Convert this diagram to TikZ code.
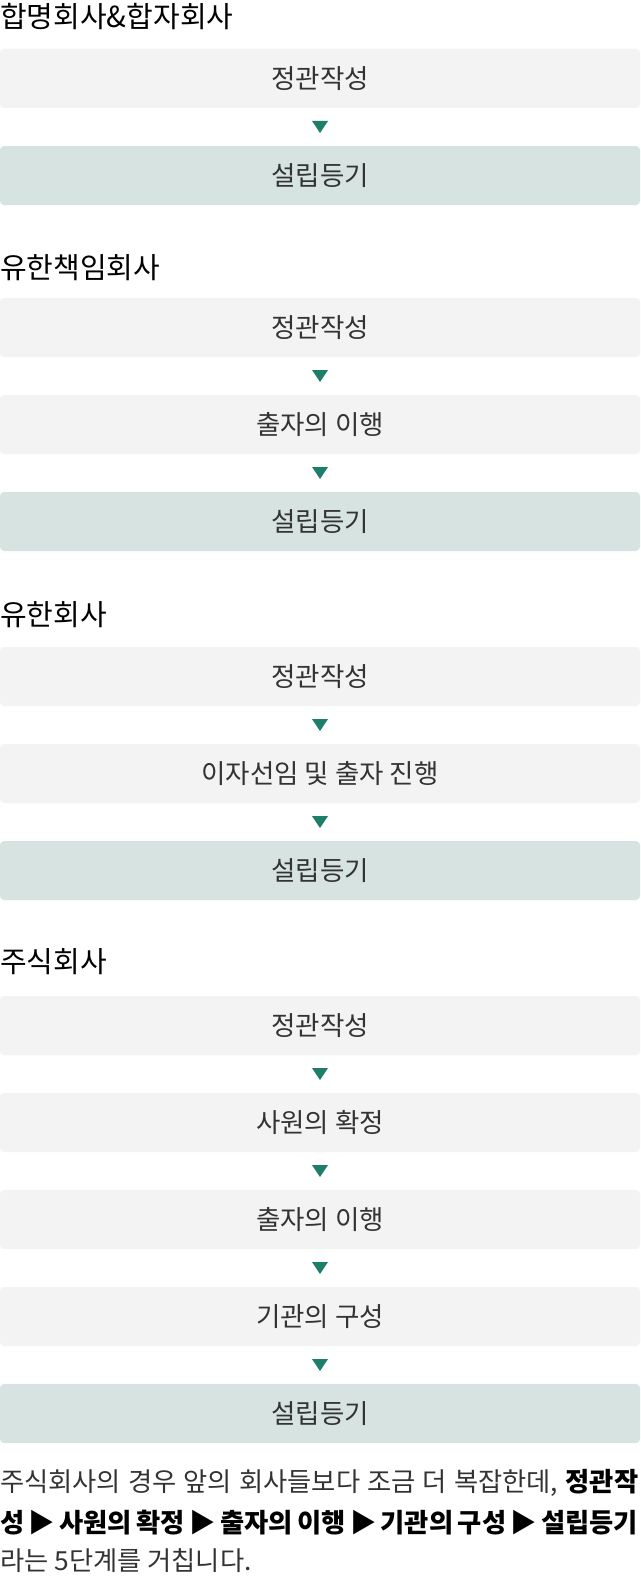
\documentclass[tikz,border=0pt]{standalone}
\usepackage{fontspec}
\setmainfont{Noto Sans CJK KR}
\usepackage{xcolor}
\usetikzlibrary{calc}

\definecolor{boxgray}{HTML}{F3F3F3}
\definecolor{boxgreen}{HTML}{D6E3E0}
\definecolor{arrowteal}{HTML}{1E7E69}
\definecolor{textgray}{HTML}{333333}

\begin{document}
\begin{tikzpicture}[
    x=1pt, y=1pt,
    title/.style={anchor=west, inner sep=0pt, font=\fontsize{29}{33}\selectfont, text=black},
    stepbox/.style={rectangle, rounded corners=4pt, fill=boxgray, minimum width=640pt, minimum height=59pt, inner sep=0pt, font=\fontsize{26.5}{30}\selectfont, text=textgray},
    donebox/.style={stepbox, fill=boxgreen},
    note/.style={anchor=west, inner sep=0pt, font=\fontsize{26.3}{30}\selectfont, text=textgray}
]
    \useasboundingbox (0,0) rectangle (640,-1576);

    % Section 1
    \node[title] (t1) at (0,-17) {합명회사\&합자회사};
    \node[stepbox] (hm1) at (320,-78.5) {정관작성};
    \node[donebox] (hm2) at (320,-175.5) {설립등기};

    % Section 2
    \node[title] (t2) at (0,-268) {유한책임회사};
    \node[stepbox] (yc1) at (320,-327.5) {정관작성};
    \node[stepbox] (yc2) at (320,-424.5) {출자의 이행};
    \node[donebox] (yc3) at (320,-521.5) {설립등기};

    % Section 3
    \node[title] (t3) at (0,-615) {유한회사};
    \node[stepbox] (yh1) at (320,-676.5) {정관작성};
    \node[stepbox] (yh2) at (320,-773.5) {이자선임 및 출자 진행};
    \node[donebox] (yh3) at (320,-870.5) {설립등기};

    % Section 4
    \node[title] (t4) at (0,-962) {주식회사};
    \node[stepbox] (js1) at (320,-1025.5) {정관작성};
    \node[stepbox] (js2) at (320,-1122.5) {사원의 확정};
    \node[stepbox] (js3) at (320,-1219.5) {출자의 이행};
    \node[stepbox] (js4) at (320,-1316.5) {기관의 구성};
    \node[donebox] (js5) at (320,-1413.5) {설립등기};

    % Arrows
    \foreach \a/\b in {hm1/hm2, yc1/yc2, yc2/yc3, yh1/yh2, yh2/yh3, js1/js2, js2/js3, js3/js4, js4/js5}
        \fill[arrowteal] ($(\a.south)!0.5!(\b.north)$) ++(-8,6) -- ++(16,0) -- ++(-8,-12) -- cycle;

    % Note
    \node[note] (n1) at (0,-1483) {\hbox to 638pt{주식회사의 경우 앞의 회사들보다 조금 더 복잡한데, \textcolor{black}{\bfseries 정관작}}};
    \node[note] (n2) at (0,-1523) {\hbox to 638pt{\textcolor{black}{\bfseries 성 ▶ 사원의 확정 ▶ 출자의 이행 ▶ 기관의 구성 ▶ 설립등기}}};
    \node[note] (n3) at (0,-1561) {라는 5단계를 거칩니다.};
\end{tikzpicture}
\end{document}
